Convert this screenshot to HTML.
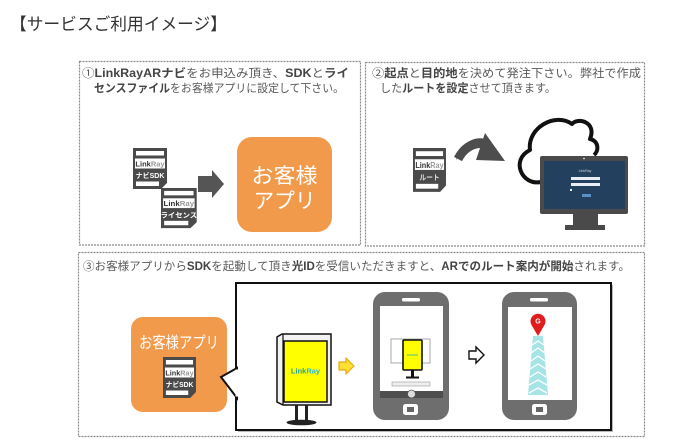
<!DOCTYPE html>
<html><head><meta charset="utf-8">
<style>
html,body{margin:0;padding:0;background:#fff;}
svg{display:block;}
text{font-family:"Liberation Sans","Noto Sans CJK JP",sans-serif;}
</style></head>
<body>
<svg width="680" height="445" viewBox="0 0 680 445" xmlns="http://www.w3.org/2000/svg">
<defs>
  <g id="doc">
    <path d="M0,0 H34 V35 L28,41 H0 Z" fill="#4a4a4a"/>
    <rect x="3" y="3" width="28" height="4.5" fill="#fff"/>
    <rect x="2" y="10.5" width="30" height="10" fill="#fff"/>
    <rect x="3" y="33.5" width="23" height="4.5" fill="#fff"/>
  </g>
</defs>

<!-- Title -->
<text x="10" y="30" font-size="17" fill="#333" textLength="217" lengthAdjust="spacingAndGlyphs">【サービスご利用イメージ】</text>

<!-- Panels -->
<g fill="none" stroke="#8a8a8a" stroke-width="1.2" stroke-dasharray="2 1">
  <rect x="79.5" y="61.5" width="281" height="183.5"/>
  <rect x="365.5" y="62.5" width="279" height="183.5"/>
  <rect x="78.5" y="252.5" width="566" height="184"/>
</g>

<!-- Panel 1 text -->
<text x="82" y="77" font-size="11.5" fill="#5a5a5a" textLength="267" lengthAdjust="spacingAndGlyphs">①<tspan font-weight="bold" fill="#444">LinkRayARナビ</tspan>をお申込み頂き、<tspan font-weight="bold" fill="#444">SDK</tspan>と<tspan font-weight="bold" fill="#444">ライ</tspan></text>
<text x="94" y="92" font-size="11.5" fill="#5a5a5a" textLength="250" lengthAdjust="spacingAndGlyphs"><tspan font-weight="bold" fill="#444">センスファイル</tspan>をお客様アプリに設定して下さい。</text>

<!-- Panel 1 graphics -->
<g transform="translate(133,148)">
  <use href="#doc"/>
  <text x="17" y="18.5" font-size="7.5" font-weight="bold" text-anchor="middle"><tspan fill="#333">Link</tspan><tspan fill="#999">Ray</tspan></text>
  <text x="17" y="30" font-size="7" font-weight="bold" fill="#fff" text-anchor="middle">ナビSDK</text>
</g>
<g transform="translate(161,188) scale(1.05,0.98)">
  <use href="#doc"/>
  <text x="17" y="18.5" font-size="7.5" font-weight="bold" text-anchor="middle"><tspan fill="#333">Link</tspan><tspan fill="#999">Ray</tspan></text>
  <text x="17" y="30" font-size="7" font-weight="bold" fill="#fff" text-anchor="middle">ライセンス</text>
</g>
<polygon points="198,176 212,176 212,170 224,184 212,198 212,192 198,192" fill="#555"/>
<rect x="237" y="137" width="95" height="95" rx="15" fill="#F29A4B"/>
<text x="284.5" y="183" font-size="21" fill="#fff" text-anchor="middle" textLength="66" lengthAdjust="spacingAndGlyphs">お客様</text>
<text x="284.5" y="208" font-size="21" fill="#fff" text-anchor="middle" textLength="62" lengthAdjust="spacingAndGlyphs">アプリ</text>

<!-- Panel 2 text -->
<text x="372" y="77" font-size="11.5" fill="#5a5a5a" textLength="269" lengthAdjust="spacingAndGlyphs">②<tspan font-weight="bold" fill="#444">起点</tspan>と<tspan font-weight="bold" fill="#444">目的地</tspan>を決めて発注下さい。弊社で作成</text>
<text x="380" y="92" font-size="11.5" fill="#5a5a5a" textLength="176" lengthAdjust="spacingAndGlyphs">した<tspan font-weight="bold" fill="#444">ルートを設定</tspan>させて頂きます。</text>

<!-- Panel 2 graphics -->
<g transform="translate(413,148) scale(0.97,1.07)">
  <use href="#doc"/>
  <text x="17" y="18.5" font-size="7.5" font-weight="bold" text-anchor="middle"><tspan fill="#333">Link</tspan><tspan fill="#999">Ray</tspan></text>
  <text x="17" y="30" font-size="7" font-weight="bold" fill="#ddd" text-anchor="middle">ルート</text>
</g>
<!-- curved arrow -->
<path d="M456,160 C462,140 478,134 490,141 L486,149 C476,144 466,149 456,160 Z" fill="#4d4d4d"/>
<path d="M458,159 Q468,140 488,144" fill="none" stroke="#4d4d4d" stroke-width="9"/>
<polygon points="485,133 505,161 476,160" fill="#4d4d4d"/>
<!-- cloud -->
<path d="M541,182 C522,186 510,160 530,150 C527,128 555,112 572,124 C578,117 597,122 590,139 C599,141 599,151 594,155" fill="#fff" stroke="#111" stroke-width="4" stroke-linejoin="round"/>
<!-- monitor -->
<rect x="540" y="156" width="88" height="58" rx="2" fill="#4a4a4a"/>
<rect x="544" y="161" width="81" height="48" fill="#23405e"/>
<circle cx="584" cy="158.5" r="0.9" fill="#ddd"/>
<text x="585" y="172" font-size="3.5" fill="#cfd8e0" text-anchor="middle">LinkRay</text>
<rect x="571" y="177" width="29" height="3" fill="#e8eef3"/>
<rect x="571" y="183" width="29" height="3" fill="#e8eef3"/>
<rect x="570" y="189" width="2" height="2" fill="#e8eef3"/>
<rect x="582" y="194" width="9" height="3" fill="#5a8fc8"/>
<rect x="573" y="214" width="25" height="11" fill="#4a4a4a"/>
<rect x="565" y="225" width="40" height="5" fill="#4a4a4a"/>

<!-- Panel 3 text -->
<text x="83" y="270" font-size="11.5" fill="#5a5a5a" textLength="547" lengthAdjust="spacingAndGlyphs">③お客様アプリから<tspan font-weight="bold" fill="#444">SDK</tspan>を起動して頂き<tspan font-weight="bold" fill="#444">光ID</tspan>を受信いただきますと、<tspan font-weight="bold" fill="#444">ARでのルート案内が開始</tspan>されます。</text>

<!-- Panel 3 orange box -->
<rect x="131" y="317" width="96" height="95" rx="12" fill="#F29A4B"/>
<text x="179" y="348" font-size="16" fill="#fff" text-anchor="middle" textLength="80" lengthAdjust="spacingAndGlyphs">お客様アプリ</text>
<g transform="translate(163,357) scale(0.97,1)">
  <use href="#doc"/>
  <text x="17" y="18.5" font-size="7.5" font-weight="bold" text-anchor="middle"><tspan fill="#333">Link</tspan><tspan fill="#999">Ray</tspan></text>
  <text x="17" y="30" font-size="7" font-weight="bold" fill="#fff" text-anchor="middle">ナビSDK</text>
</g>

<!-- callout box -->
<rect x="238" y="285" width="375" height="147" fill="#bbb"/>
<rect x="236" y="283" width="375" height="147" fill="#fff" stroke="#111" stroke-width="2"/>
<polygon points="237,368 221,377 237,398" fill="#fff" stroke="#111" stroke-width="2" stroke-linejoin="miter"/>
<rect x="235.5" y="369.5" width="3" height="27" fill="#fff"/>

<!-- signboard -->
<polygon points="277,337 282,334 331,334 331,405 283,405 277,402" fill="#f2f2f2" stroke="#111" stroke-width="1.5"/>
<line x1="283" y1="334" x2="283" y2="405" stroke="#111" stroke-width="1.2"/>
<rect x="284" y="341" width="43" height="61" fill="#ffff00" stroke="#111" stroke-width="1.5"/>
<text x="305.5" y="373.5" font-size="7.5" font-weight="bold" text-anchor="middle"><tspan fill="#2aa58a">Link</tspan><tspan fill="#29b6e0">Ray</tspan></text>
<rect x="295" y="405" width="3" height="16" fill="#222"/>
<rect x="305" y="405" width="3" height="16" fill="#222"/>
<ellipse cx="301.5" cy="422.5" rx="15" ry="2.8" fill="#222"/>

<!-- yellow arrow -->
<polygon points="339,362 346,362 346,358 354,366 346,374 346,370 339,370" fill="#ffe033" stroke="#e6a817" stroke-width="1.2" stroke-linejoin="round"/>

<!-- phone 1 -->
<rect x="373" y="292" width="76" height="128" rx="12" fill="#6e6e6e"/>
<rect x="380" y="306" width="63" height="92" fill="#fff"/>
<rect x="402" y="298" width="18" height="3.5" rx="1.5" fill="#fff"/>
<rect x="403" y="404" width="15" height="11" rx="2.5" fill="#fff"/>
<rect x="407" y="407" width="7" height="5" fill="#666"/>
<rect x="391" y="339" width="39" height="24" fill="#fff" stroke="#aaa" stroke-width="1"/>
<rect x="403" y="340" width="19" height="30" rx="1" fill="#ffff00" stroke="#111" stroke-width="1.6"/>
<line x1="407" y1="355" x2="418" y2="355" stroke="#4cbb8a" stroke-width="1"/>
<rect x="411" y="370" width="3" height="7" fill="#111"/>
<rect x="406" y="376.5" width="13" height="2" fill="#111"/>
<rect x="392" y="382" width="38" height="4" fill="#eee" stroke="#999" stroke-width="0.6"/>
<rect x="380" y="391" width="63" height="7" fill="#4e4e4e"/>
<circle cx="411.5" cy="394" r="4" fill="#ddd" stroke="#555" stroke-width="0.8"/>

<!-- outline arrow -->
<polygon points="469,351 476,351 476,347 484,355 476,363 476,359 469,359" fill="#fff" stroke="#111" stroke-width="1.4" stroke-linejoin="miter"/>

<!-- phone 2 -->
<rect x="502" y="292" width="75" height="128" rx="12" fill="#6e6e6e"/>
<rect x="508" y="307" width="64" height="93" fill="#fff"/>
<rect x="530" y="298" width="18" height="3.5" rx="1.5" fill="#fff"/>
<rect x="532" y="404" width="15" height="11" rx="2.5" fill="#fff"/>
<rect x="536" y="407" width="7" height="5" fill="#666"/>
<polygon points="533,336 543,336 548,395 528,395" fill="#a6e4e6"/>
<g fill="none" stroke="#fff" stroke-width="1.3">
  <polyline points="532,345 538,341 544,345"/>
  <polyline points="531,353 538,348 545,353"/>
  <polyline points="531,361 538,356 545,361"/>
  <polyline points="530,369 538,364 546,369"/>
  <polyline points="530,377 538,372 546,377"/>
  <polyline points="529,385 538,380 547,385"/>
  <polyline points="529,393 538,388 547,393"/>
</g>
<path d="M538,336 L531.5,325 A7.5,7.5 0 1 1 544.5,325 Z" fill="#e01c1c"/>
<text x="538" y="323.5" font-size="7" font-weight="bold" fill="#fff" text-anchor="middle">G</text>
</svg>
</body></html>
